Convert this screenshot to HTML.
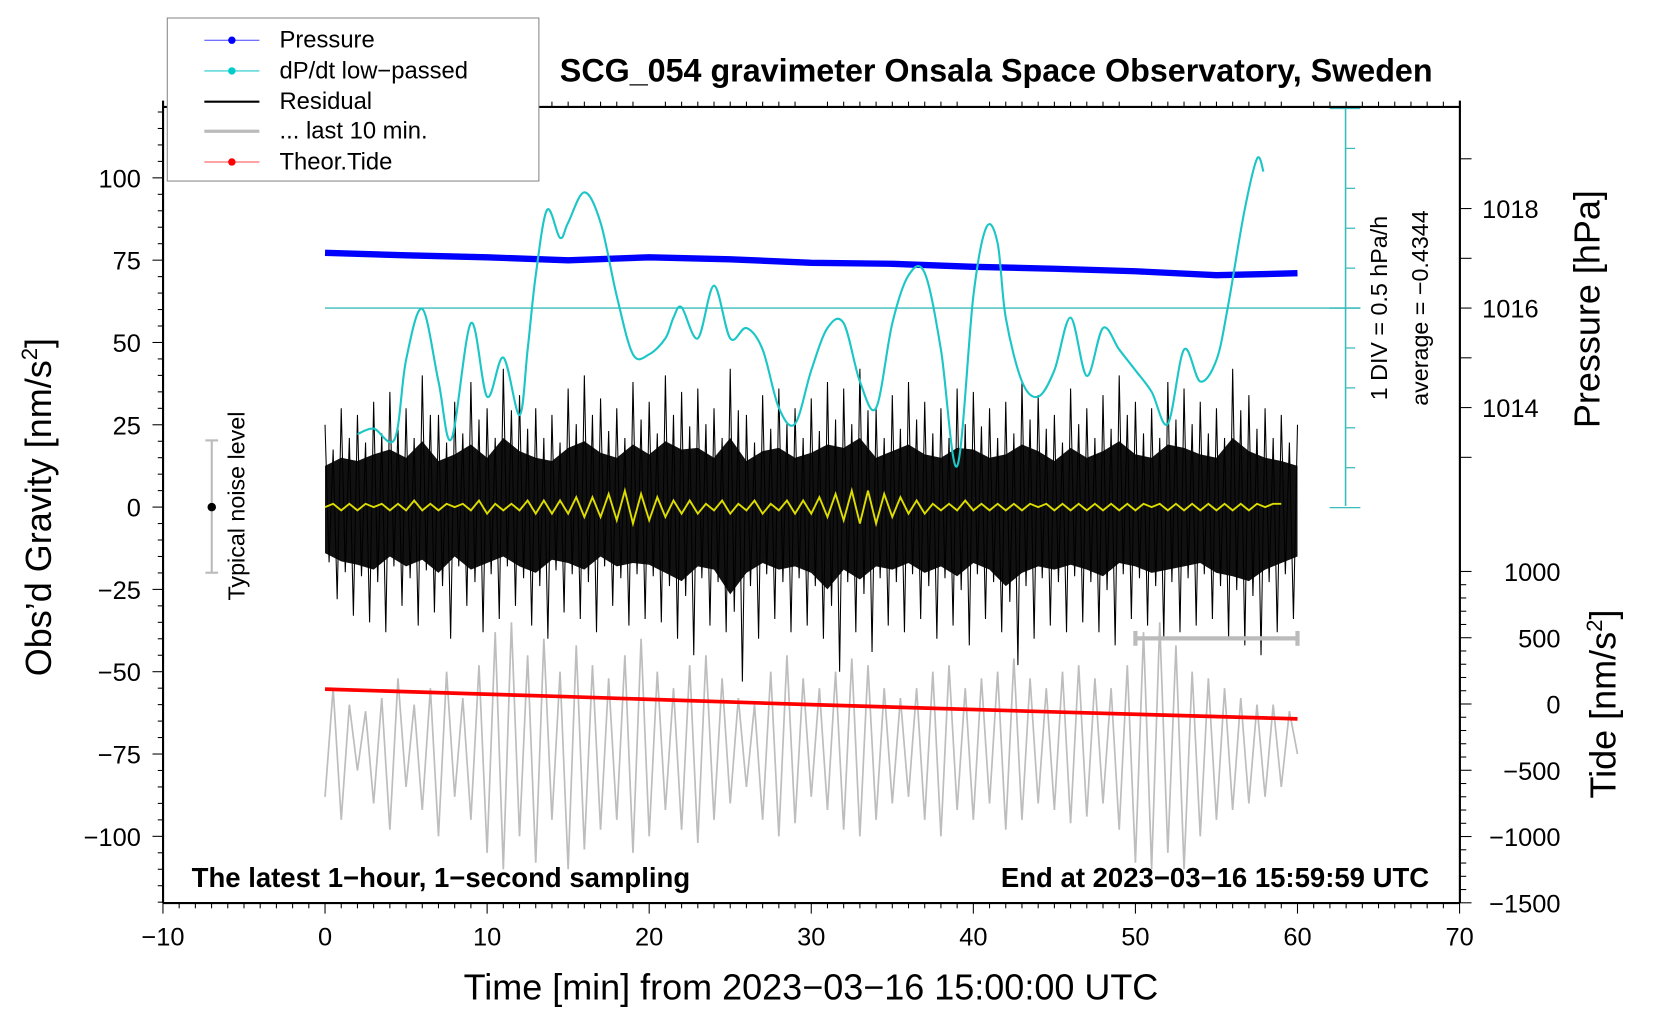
<!DOCTYPE html>
<html><head><meta charset="utf-8"><style>
html,body{margin:0;padding:0;background:#fff;}
svg{display:block;font-family:"Liberation Sans",sans-serif;}
</style></head><body>
<svg id="chart" width="1660" height="1020" viewBox="0 0 1568 963.5" xmlns="http://www.w3.org/2000/svg">
<g id="plot"></g>
<g id="axes"></g>
<text x="941" y="77" font-size="30.5" font-weight="bold" text-anchor="middle">SCG_054 gravimeter Onsala Space Observatory, Sweden</text>
<text x="766" y="944" font-size="34" text-anchor="middle">Time [min] from 2023−03−16 15:00:00 UTC</text>
<text transform="translate(48,479) rotate(-90)" font-size="34" text-anchor="middle">Obs’d Gravity [nm/s<tspan font-size="21" dy="-13">2</tspan><tspan dy="13">]</tspan></text>
<text transform="translate(1511,292) rotate(-90)" font-size="34" text-anchor="middle">Pressure [hPa]</text>
<text transform="translate(1526,665) rotate(-90)" font-size="34" text-anchor="middle">Tide [nm/s<tspan font-size="21" dy="-13">2</tspan><tspan dy="13">]</tspan></text>
<text x="181" y="838" font-size="26" font-weight="bold">The latest 1−hour, 1−second sampling</text>
<text x="1350" y="838" font-size="26" font-weight="bold" text-anchor="end">End at 2023−03−16 15:59:59 UTC</text>
<text transform="translate(1310,291) rotate(-90)" font-size="22" text-anchor="middle">1 DIV = 0.5 hPa/h</text>
<text transform="translate(1349,291) rotate(-90)" font-size="22" text-anchor="middle">average = −0.4344</text>
<text transform="translate(231,478) rotate(-90)" font-size="22" text-anchor="middle">Typical noise level</text>
<g>
<rect x="158" y="17" width="351" height="154" fill="#fff" stroke="#888" stroke-width="1"/>
<g><line x1="193" y1="38" x2="245" y2="38" stroke="#44f" stroke-width="1"/><circle cx="219" cy="38" r="3.5" fill="#00f"/><text x="264" y="45" font-size="22.5">Pressure</text></g>
<g><line x1="193" y1="67" x2="245" y2="67" stroke="#2cc" stroke-width="1"/><circle cx="219" cy="67" r="3.5" fill="#0cc"/><text x="264" y="74" font-size="22.5">dP/dt low−passed</text></g>
<g><line x1="193" y1="96" x2="245" y2="96" stroke="#000" stroke-width="2"/><text x="264" y="103" font-size="22.5">Residual</text></g>
<g><line x1="193" y1="124" x2="245" y2="124" stroke="#bbb" stroke-width="3"/><text x="264" y="131" font-size="22.5">... last 10 min.</text></g>
<g><line x1="193" y1="153" x2="245" y2="153" stroke="#f44" stroke-width="1"/><circle cx="219" cy="153" r="3.5" fill="#f00"/><text x="264" y="160" font-size="22.5">Theor.Tide</text></g>
</g>
</svg>
<script>
// ---- data ----
const dpTimes = [2,3,4.3,5,6,7,7.8,9,10,11,12,12.5,13,13.7,14.5,15,16,17,18,19,20,21,21.5,22,23,24,25,26,27,28,29,30,31,32,33,34,35,36,37,38,39,40,40.8,41.5,42,43,44,45,46,47,48,49,50,51,52,53,54,55,55.7,56.7,57.5,57.9];
const dpValues = [-1.58,-1.51,-1.64,-0.65,-0.01,-0.92,-1.64,-0.19,-1.11,-0.62,-1.34,-0.52,0.41,1.23,0.88,1.07,1.45,1.07,0.15,-0.58,-0.58,-0.38,-0.12,0.01,-0.38,0.28,-0.38,-0.25,-0.52,-1.25,-1.45,-0.78,-0.25,-0.19,-0.92,-1.25,-0.19,0.41,0.44,-0.52,-1.98,0.15,1.01,0.81,-0.12,-0.92,-1.11,-0.78,-0.12,-0.85,-0.25,-0.52,-0.78,-1.05,-1.45,-0.52,-0.92,-0.65,0.01,1.19,1.87,1.71];
const presTimes = [0,5,10,15,20,25,30,35,40,45,50,55,60];
const presValues = [1017.11,1017.06,1017.02,1016.96,1017.02,1016.98,1016.91,1016.89,1016.83,1016.79,1016.74,1016.66,1016.70];
const tideTimes = [0,15,30,45,60];
const tideValues = [112,55,-5,-60,-112];
const resHi = [25,30,28,32,35,30,40,28,32,38,30,42,34,30,28,36,40,33,30,38,32,40,35,36,30,42,28,34,36,30,33,38,36,42,30,34,38,32,30,36,35,30,32,38,34,28,36,30,34,40,32,30,38,36,32,30,42,34,30,28,25];
const resLo = [-28,-33,-35,-38,-30,-36,-32,-40,-30,-38,-34,-30,-36,-40,-32,-34,-38,-30,-36,-34,-35,-40,-45,-36,-38,-53,-40,-34,-38,-36,-40,-50,-38,-44,-36,-38,-34,-40,-36,-42,-34,-38,-48,-40,-36,-38,-35,-38,-42,-34,-36,-40,-38,-36,-34,-40,-42,-45,-38,-34,-30];
const yelValues = [0,1,-1,1,-1,1,0,1,-1,1,-1,2,-1,1,-1,1,0,1,-1,2,-2,1,-1,1,-1,2,-2,2,-2,2,-2,3,-3,3,-3,4,-4,5,-5,4,-4,3,-3,2,-2,2,-2,1,-1,2,-2,1,-1,2,-2,1,-1,2,-2,2,-2,3,-3,4,-4,5,-5,5,-5,4,-3,3,-2,2,-2,1,-1,1,-1,2,-1,1,-1,1,-1,1,-1,1,0,1,-1,1,-1,1,-1,1,-1,1,-1,1,-1,1,0,1,-1,1,-1,1,-1,1,-1,1,-1,1,-1,1,0,1,1];
const grayValues = [-88,-55,-95,-60,-80,-62,-90,-58,-98,-52,-85,-60,-92,-55,-100,-50,-88,-58,-95,-48,-105,-38,-110,-35,-100,-45,-108,-40,-95,-50,-110,-42,-104,-48,-98,-52,-95,-45,-105,-40,-100,-50,-92,-55,-98,-48,-102,-45,-95,-52,-90,-58,-85,-60,-95,-50,-100,-45,-96,-52,-88,-55,-92,-50,-98,-46,-100,-48,-95,-55,-90,-58,-88,-55,-95,-50,-100,-48,-92,-55,-95,-52,-90,-50,-98,-46,-95,-52,-90,-55,-92,-50,-96,-48,-94,-52,-90,-55,-98,-48,-108,-38,-110,-35,-105,-42,-110,-50,-100,-52,-95,-55,-92,-58,-90,-60,-88,-60,-85,-62,-75];
const xTicks = [-10,0,10,20,30,40,50,60,70];
const gTicks = [100,75,50,25,0,-25,-50,-75,-100];
const pTicks = [1018,1016,1014];
const tTicks = [1000,500,0,-500,-1000,-1500];

// ---- scales ----
const X = t => 307 + t*15.31;
const YL = v => 479 - v*3.11;
const YP = p => 291 - (p-1016)*47;
const YD = d => 291 - d/0.5*37.7;
const YT = v => 665 - v*0.1252;
const NS='http://www.w3.org/2000/svg';
const plot=document.getElementById('plot'), axes=document.getElementById('axes');
function mk(tag,attrs,parent){const e=document.createElementNS(NS,tag);for(const k in attrs)e.setAttribute(k,attrs[k]);parent.appendChild(e);return e;}
function smooth(pts){let d='M'+pts[0][0]+','+pts[0][1];for(let i=0;i<pts.length-1;i++){const p0=pts[Math.max(0,i-1)],p1=pts[i],p2=pts[i+1],p3=pts[Math.min(pts.length-1,i+2)];d+=' C'+(p1[0]+(p2[0]-p0[0])/6)+','+(p1[1]+(p2[1]-p0[1])/6)+' '+(p2[0]-(p3[0]-p1[0])/6)+','+(p2[1]-(p3[1]-p1[1])/6)+' '+p2[0]+','+p2[1];}return d;}

// gray trace
let gp=grayValues.map((v,i)=>X(i*0.5)+','+YL(v)).join(' ');
const gray=mk('polyline',{points:gp,fill:'none',stroke:'#bdbdbd','stroke-width':1.6},plot);


// residual band
let band=resHi.map((v,i)=>X(i)+','+YL(v*0.5)).concat(resLo.slice().reverse().map((v,i)=>X(resLo.length-1-i)+','+YL(v*0.5)));
const bandEl=mk('polygon',{points:band.join(' '),fill:'#111'},plot);


let zz=[];resHi.forEach((v,i)=>{zz.push(X(i)+','+YL(v));if(i<resHi.length-1){zz.push(X(i+0.25)+','+YL(resLo[i]*0.6));zz.push(X(i+0.5)+','+YL(v*0.7));zz.push(X(i+0.75)+','+YL(resLo[i]));}});
const res=mk('polyline',{points:zz.join(' '),fill:'none',stroke:'#000','stroke-width':1},plot);


// yellow
const yel=mk('polyline',{points:yelValues.map((v,i)=>X(i*0.5)+','+YL(v)).join(' '),fill:'none',stroke:'#dddd00','stroke-width':1.8},plot);


// red tide
const tide=mk('polyline',{points:tideTimes.map((t,i)=>X(t)+','+YT(tideValues[i])).join(' '),fill:'none',stroke:'#f00','stroke-width':3.5},plot);


// pressure
const pres=mk('polyline',{points:presTimes.map((t,i)=>X(t)+','+YP(presValues[i])).join(' '),fill:'none',stroke:'#00f','stroke-width':6,'stroke-linejoin':'round'},plot);


// dp/dt zero line + axis
const zl=mk('line',{x1:307,y1:291,x2:1285,y2:291,stroke:'#3bbcbc','stroke-width':1.2},plot);


const dax=mk('line',{x1:1271,y1:101,x2:1271,y2:478,stroke:'#3bbcbc','stroke-width':1.5},plot);


for(let k=-5;k<=5;k++){const y=YD(k*0.5);const w=(k===-5||k===5||k===0)?[1256,1285]:[1271,1280];mk('line',{x1:w[0],y1:y,x2:w[1],y2:y,stroke:'#3bbcbc','stroke-width':1.2},plot);}
const dp=mk('path',{d:smooth(dpTimes.map((t,i)=>[X(t),YD(dpValues[i])])),fill:'none',stroke:'#1cc6c6','stroke-width':2},plot);


// noise marker
const nm=mk('g',{},plot);


mk('line',{x1:200,y1:416,x2:200,y2:541,stroke:'#bbb','stroke-width':2},nm);
mk('line',{x1:194,y1:416,x2:206,y2:416,stroke:'#bbb','stroke-width':2},nm);
mk('line',{x1:194,y1:541,x2:206,y2:541,stroke:'#bbb','stroke-width':2},nm);
mk('circle',{cx:200,cy:479,r:4,fill:'#000'},nm);
const bar=mk('g',{},plot);


mk('line',{x1:X(50),y1:603,x2:X(60),y2:603,stroke:'#bbb','stroke-width':4},bar);
mk('line',{x1:X(50),y1:596,x2:X(50),y2:610,stroke:'#bbb','stroke-width':4},bar);
mk('line',{x1:X(60),y1:596,x2:X(60),y2:610,stroke:'#bbb','stroke-width':4},bar);

// axes frame
mk('line',{x1:154,y1:95,x2:154,y2:853,stroke:'#000','stroke-width':2},axes);
mk('line',{x1:154,y1:853,x2:1379,y2:853,stroke:'#000','stroke-width':2},axes);
mk('line',{x1:154,y1:101,x2:1379,y2:101,stroke:'#000','stroke-width':2},axes);
mk('line',{x1:1379,y1:95,x2:1379,y2:853,stroke:'#000','stroke-width':2},axes);
for(let t=-10;t<=70;t++){const big=t%10===0;mk('line',{x1:X(t),y1:853,x2:X(t),y2:853+(big?10:5),stroke:'#000','stroke-width':1},axes);mk('line',{x1:X(t),y1:101,x2:X(t),y2:101-(big?0:5),stroke:'#000','stroke-width':1},axes);}
xTicks.forEach(t=>{const e=mk('text',{x:X(t),y:893,'font-size':24,'text-anchor':'middle'},axes);e.textContent=String(t).replace('-','−');

});
for(let v=-120;v<=120;v+=5){mk('line',{x1:154,y1:YL(v),x2:v%25===0?144:149,y2:YL(v),stroke:'#000','stroke-width':1},axes);}
gTicks.forEach(v=>{const e=mk('text',{x:133,y:YL(v)+9,'font-size':24,'text-anchor':'end'},axes);e.textContent=String(v).replace('-','−');

});
for(let p=1013;p<=1019;p++){mk('line',{x1:1379,y1:YP(p),x2:1390,y2:YP(p),stroke:'#000','stroke-width':1},axes);}
pTicks.forEach(p=>{const e=mk('text',{x:1400,y:YP(p)+9,'font-size':24},axes);e.textContent=p;

});
for(let v=-1500;v<=1000;v+=100){mk('line',{x1:1379,y1:YT(v),x2:v%500===0?1390:1385,y2:YT(v),stroke:'#000','stroke-width':1},axes);}
tTicks.forEach(v=>{const e=mk('text',{x:1474,y:YT(v)+9,'font-size':24,'text-anchor':'end'},axes);e.textContent=String(v).replace('-','−');

});
</script>
</body></html>
